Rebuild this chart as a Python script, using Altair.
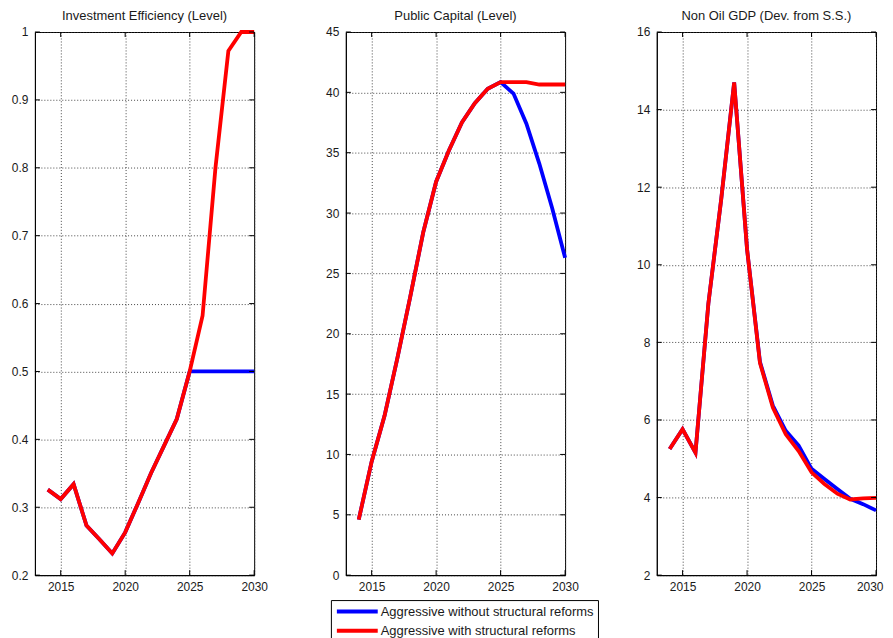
import altair as alt
import pandas as pd

years = list(range(2014, 2031))
series_names = ["Aggressive without structural reforms", "Aggressive with structural reforms"]
series_colors = ["#0000ff", "#ff0000"]

panel_titles = ["Investment Efficiency (Level)", "Public Capital (Level)", "Non Oil GDP (Dev. from S.S.)"]

eff_with = [0.326, 0.312, 0.334, 0.273, 0.253, 0.232, 0.263, 0.306, 0.35, 0.39, 0.43, 0.5, 0.582, 0.80, 0.972, 1.0, 1.0]
eff_without = [0.326, 0.312, 0.334, 0.273, 0.253, 0.232, 0.263, 0.306, 0.35, 0.39, 0.43, 0.5, 0.5, 0.5, 0.5, 0.5, 0.5]

cap_with = [4.6, 9.4, 13.2, 18.0, 23.1, 28.4, 32.6, 35.2, 37.5, 39.1, 40.3, 40.85, 40.85, 40.85, 40.65, 40.65, 40.65]
cap_without = [4.6, 9.4, 13.2, 18.0, 23.1, 28.4, 32.6, 35.2, 37.5, 39.1, 40.3, 40.85, 39.9, 37.4, 34.1, 30.4, 26.3]

gdp_with = [5.25, 5.76, 5.16, 9.0, 11.7, 14.7, 10.4, 7.47, 6.32, 5.63, 5.2, 4.65, 4.35, 4.1, 3.95, 3.98, 3.99]
gdp_without = [5.25, 5.76, 5.16, 9.0, 11.7, 14.7, 10.4, 7.5, 6.37, 5.72, 5.34, 4.74, 4.48, 4.22, 3.97, 3.83, 3.67]

x_ticks = [2015, 2020, 2025, 2030]
x_domain = [2013, 2030]
eff_ticks = [0.2, 0.3, 0.4, 0.5, 0.6, 0.7, 0.8, 0.9, 1.0]
cap_ticks = [0, 5, 10, 15, 20, 25, 30, 35, 40, 45]
gdp_ticks = [2, 4, 6, 8, 10, 12, 14, 16]

W, H = 220, 545
FONT = "Liberation Sans"
TXT = "#1a1a1a"

legend = alt.Legend(
    title=None, orient="none", legendX=297, legendY=570,
    symbolType="stroke", symbolSize=1681, symbolStrokeWidth=4,
    clipHeight=15, rowPadding=4.4, labelFontSize=13, labelFont=FONT,
    labelColor=TXT, labelLimit=400, strokeColor="black", fillColor="white",
    padding=4, symbolOffset=0, labelOffset=1, direction="vertical",
)


def panel(title, y_without, y_with, yticks, yfmt, last=False):
    df = pd.DataFrame({
        "year": years + years,
        "value": y_without + y_with,
        "series": [series_names[0]] * len(years) + [series_names[1]] * len(years),
    })
    xscale = alt.Scale(domain=x_domain, nice=False, zero=False)
    yscale = alt.Scale(domain=[yticks[0], yticks[-1]], nice=False, zero=False)
    if last:
        xaxis = alt.Axis(values=x_ticks, format="d", title=None, labelPadding=6,
                         labelFlush=1, labelFlushOffset=7, labelOverlap=False)
    else:
        xaxis = alt.Axis(values=x_ticks, format="d", title=None, labelPadding=6,
                         labelFlush=False, labelOverlap=False)
    yaxis = alt.Axis(values=yticks, format=yfmt, title=None, labelPadding=7,
                     labelFlush=False, labelOverlap=False)
    x = alt.X("year:Q", scale=xscale, axis=xaxis)
    y = alt.Y("value:Q", scale=yscale, axis=yaxis)
    color = alt.Color("series:N", scale=alt.Scale(domain=series_names, range=series_colors), legend=legend)
    base = alt.Chart(df).mark_line(strokeWidth=3.8).encode(x=x, y=y, color=color)
    blue = base.transform_filter(alt.datum.series == series_names[0])
    red = base.transform_filter(alt.datum.series == series_names[1])

    ydf = pd.DataFrame({"value": yticks})
    xdf = pd.DataFrame({"year": x_ticks})
    tl = alt.Chart(ydf).mark_rule(color="black", strokeWidth=1).encode(y=y, x=alt.value(0), x2=alt.value(5))
    tr = alt.Chart(ydf).mark_rule(color="black", strokeWidth=1).encode(y=y, x=alt.value(W - 5), x2=alt.value(W))
    tb = alt.Chart(xdf).mark_rule(color="black", strokeWidth=1).encode(x=x, y=alt.value(H - 5), y2=alt.value(H))
    tt = alt.Chart(xdf).mark_rule(color="black", strokeWidth=1).encode(x=x, y=alt.value(0), y2=alt.value(5))

    tdf = pd.DataFrame({"label": [title]})
    ttl = alt.Chart(tdf).mark_text(
        font=FONT, fontSize=13, color=TXT, align="center", baseline="alphabetic"
    ).encode(text="label:N", x=alt.value(W / 2), y=alt.value(-12))

    return alt.layer(blue, red, tl, tr, tb, tt, ttl).properties(width=W, height=H)


p1 = panel(panel_titles[0], eff_without, eff_with, eff_ticks, ".1~f")
p2 = panel(panel_titles[1], cap_without, cap_with, cap_ticks, "d")
p3 = panel(panel_titles[2], gdp_without, gdp_with, gdp_ticks, "d", last=True)

chart = alt.hconcat(p1, p2, p3, spacing=92, bounds="flush").properties(
    padding={"left": 2, "top": 0, "right": 0, "bottom": 0}
).configure_view(
    stroke="black", strokeWidth=1
).configure_axis(
    domainColor="black", domainWidth=1, ticks=False,
    grid=True, gridColor="#333333", gridDash=[1, 2], gridWidth=1, gridOpacity=0.9,
    labelFont=FONT, labelFontSize=12, labelColor=TXT,
)

chart.save("out.html", embed_options={"renderer": "svg", "actions": False})
